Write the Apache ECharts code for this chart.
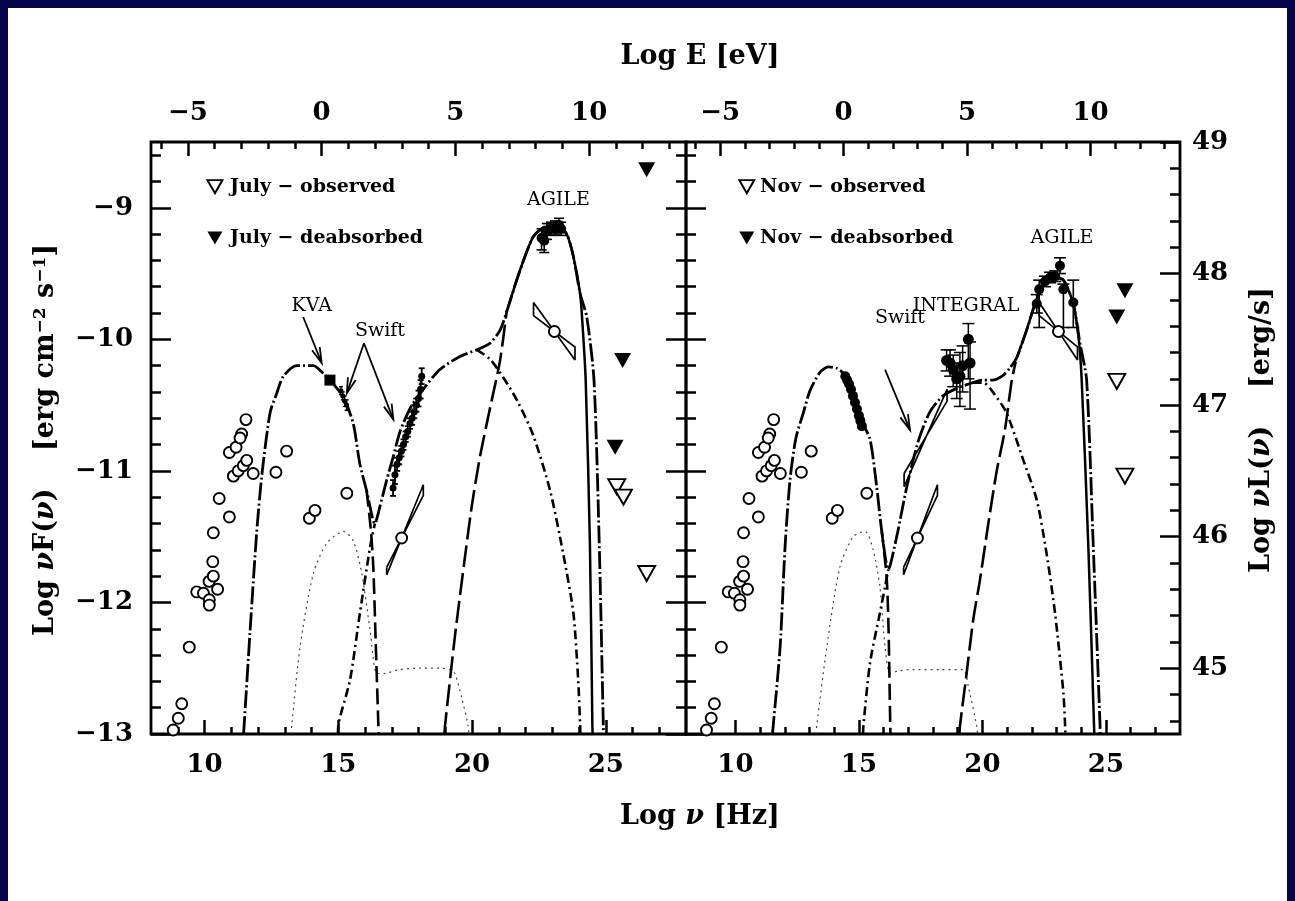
<!DOCTYPE html>
<html>
<head>
<meta charset="utf-8">
<title>3C 454.3 SED - July and November 2007</title>
<script src="https://cdn.jsdelivr.net/npm/echarts@6.0.0/dist/echarts.min.js"></script>
<style>
html,body{margin:0;padding:0;background:#ffffff;}
#wrap{position:relative;width:1295px;height:901px;overflow:hidden;background:#ffffff;}
#chart{position:absolute;left:0;top:0;width:1295px;height:901px;}
#frame{position:absolute;left:0;top:0;width:1295px;height:901px;box-sizing:border-box;border:8px solid #05054b;border-bottom-width:0;pointer-events:none;}
</style>
</head>
<body>
<div id="wrap"><div id="chart"></div><div id="frame"></div></div>
<script>
// ---------------- axis ranges and ticks ----------------
const NU_RANGE = [8, 28];          // log nu [Hz]
const LOGF_RANGE = [-13, -8.5];    // log nuF(nu)
const LOG_EV_HZ = 14.38;           // log E[eV] = log nu - 14.38
const L_SHIFT = 57.5;              // log nuL(nu) = log nuF(nu) + 57.5

const nuMajor = [10, 15, 20, 25];
const eMajor = [-5, 0, 5, 10];
const fMajor = [-13, -12, -11, -10, -9];
const lMajor = [45, 46, 47, 48, 49];

function stepTicks(lo, hi, step, majors) {
  const out = [];
  for (let v = lo; v <= hi + 1e-9; v += step) {
    const r = Math.round(v * 10) / 10;
    if (!majors.some(m => Math.abs(m - r) < 1e-6)) out.push(r);
  }
  return out;
}
const nuMinor = stepTicks(9, 27, 1, nuMajor);
const eMinor = stepTicks(-6, 13, 1, eMajor);
const fMinor = stepTicks(-12.8, -8.6, 0.2, fMajor);
const lMinor = stepTicks(44.6, 48.8, 0.2, lMajor);

// ---------------- archival data (both panels) ----------------
const archivalPts = [
  [8.83,-12.97],[9.02,-12.88],[9.15,-12.77],[9.43,-12.34],[9.71,-11.92],[9.96,-11.93],
  [10.17,-11.84],[10.18,-11.98],[10.18,-12.02],[10.31,-11.69],[10.33,-11.80],[10.49,-11.90],
  [10.33,-11.47],[10.55,-11.21],[10.93,-11.35],[10.93,-10.86],[11.08,-11.04],[11.18,-10.82],
  [11.26,-11.00],[11.39,-10.72],[11.33,-10.75],[11.45,-10.96],[11.55,-10.61],[11.58,-10.92],
  [11.82,-11.02],[12.67,-11.01],[13.07,-10.85],[13.92,-11.36],[14.13,-11.30],[15.32,-11.17],
  [17.37,-11.51],[23.08,-9.94]
];
const archivalXBowtie = [[16.81,-11.734],[18.18,-11.186],[18.18,-11.105],[16.81,-11.79],[16.81,-11.734]];
const archivalGBowtie = [[22.3,-9.72],[23.85,-10.157],[23.85,-10.058],[22.3,-9.82],[22.3,-9.72]];

// ---------------- July 2007 ----------------
const julyTotal = [
  [11.46,-13],[11.48,-12.94],[11.70,-12.23],[11.95,-11.47],[12.14,-11.04],[12.45,-10.56],
  [12.70,-10.41],[12.95,-10.28],[13.45,-10.20],[14.07,-10.20],[14.44,-10.26],[14.69,-10.31],
  [15.19,-10.44],[15.56,-10.64],[15.81,-10.95],[16.06,-11.15],[16.37,-11.40],[16.56,-11.27],
  [16.81,-11.07],[17.06,-10.89],[17.31,-10.70],[17.70,-10.52],[18.06,-10.41],[18.80,-10.23],
  [19.55,-10.13],[20.18,-10.08],[20.67,-10.03],[21.05,-9.93],[21.36,-9.75],[21.67,-9.55],
  [21.98,-9.37],[22.29,-9.22],[22.67,-9.15],[23.17,-9.13],[23.54,-9.20],[23.79,-9.37],
  [24.04,-9.65],[24.29,-9.83],[24.56,-10.31],[24.76,-11.58],[24.91,-12.94],[24.92,-13]
];
const julyAbsorbed = [
  [21.36,-9.75],[21.67,-9.55],[21.98,-9.37],[22.29,-9.22],[22.67,-9.15],[23.17,-9.13],
  [23.54,-9.20],[23.79,-9.37],[24.04,-9.65],[24.12,-9.85],[24.25,-10.31],[24.41,-11.58],
  [24.50,-12.94],[24.51,-13]
];
const julySyncTail = [[16.06,-11.15],[16.22,-11.45],[16.31,-11.73],[16.40,-12.30],[16.50,-12.94],[16.51,-13]];
const julySSCRise = [[14.99,-13],[15.00,-12.94],[15.44,-12.59],[15.81,-12.08],[16.19,-11.58],[16.37,-11.40]];
const julySSCFall = [
  [20.18,-10.08],[20.67,-10.15],[21.17,-10.29],[21.70,-10.47],[22.29,-10.73],[22.92,-11.15],
  [23.41,-11.63],[23.79,-12.08],[23.97,-12.59],[24.04,-12.92],[24.05,-13]
];
const julyECRise = [
  [18.97,-13],[18.99,-12.94],[19.36,-12.26],[19.74,-11.65],[19.99,-11.27],[20.30,-10.89],
  [20.74,-10.46],[21.05,-10.16],[21.30,-9.78]
];
const julyDisk = [
  [13.24,-13],[13.26,-12.94],[13.57,-12.34],[14.07,-11.78],[14.57,-11.55],[15.19,-11.46],
  [15.56,-11.53],[15.88,-11.78],[16.19,-12.21],[16.44,-12.54],[16.70,-12.54],[17.30,-12.51],
  [18.10,-12.50],[18.80,-12.50],[19.18,-12.51],[19.36,-12.54],[19.61,-12.72],[19.86,-12.94],[19.88,-13]
];
const julyKVA = [[14.69,-10.31]];
// [log nu, log nuF, low, high]
const julyUVOT = [[15.10,-10.39,-10.42,-10.36],[15.17,-10.43,-10.46,-10.40],[15.24,-10.47,-10.51,-10.43],[15.31,-10.50,-10.54,-10.46]];
const julyXRT = [
  [17.05,-11.13,-11.19,-11.07],[17.12,-11.03,-11.10,-10.96],[17.20,-10.95,-11.00,-10.90],
  [17.28,-10.90,-10.95,-10.85],[17.36,-10.85,-10.89,-10.81],[17.44,-10.80,-10.84,-10.76],
  [17.52,-10.74,-10.78,-10.70],[17.60,-10.70,-10.74,-10.66],[17.68,-10.64,-10.68,-10.60],
  [17.76,-10.60,-10.65,-10.55],[17.84,-10.55,-10.60,-10.50],[17.92,-10.50,-10.55,-10.45],
  [18.00,-10.45,-10.51,-10.39],[18.08,-10.38,-10.45,-10.31],[18.12,-10.28,-10.34,-10.22]
];
const julyAGILE = [
  [22.60,-9.23,-9.32,-9.16],[22.70,-9.25,-9.34,-9.17],[22.80,-9.18,-9.24,-9.12],
  [22.95,-9.16,-9.21,-9.11],[23.10,-9.15,-9.20,-9.10],[23.25,-9.13,-9.19,-9.08],[23.33,-9.16,-9.21,-9.11]
];
const julyObserved = [[25.41,-11.12],[25.66,-11.20],[26.53,-11.78]];
const julyDeabsorbed = [[26.53,-8.71],[25.63,-10.16],[25.35,-10.82]];

// ---------------- November 2007 ----------------
const novTotal = [
  [11.50,-13],[11.53,-12.94],[11.81,-12.34],[12.01,-11.58],[12.21,-11.07],[12.45,-10.75],
  [12.75,-10.56],[13.02,-10.39],[13.43,-10.25],[13.76,-10.21],[14.10,-10.22],[14.37,-10.26],
  [14.70,-10.38],[15.11,-10.62],[15.45,-10.76],[15.72,-11.12],[15.92,-11.45],[16.19,-11.75],
  [16.53,-11.50],[16.94,-11.12],[17.41,-10.77],[17.88,-10.55],[18.40,-10.43],[19.00,-10.37],
  [19.60,-10.33],[20.00,-10.31],[20.40,-10.31],[20.80,-10.28],[21.10,-10.22],[21.39,-10.14],
  [21.79,-9.93],[22.13,-9.73],[22.47,-9.58],[22.87,-9.53],[23.28,-9.55],[23.68,-9.73],
  [23.95,-10.03],[24.22,-10.31],[24.49,-11.58],[24.76,-12.92],[24.77,-13]
];
const novAbsorbed = [
  [21.39,-10.14],[21.79,-9.93],[22.13,-9.73],[22.47,-9.58],[22.87,-9.53],[23.28,-9.55],
  [23.68,-9.73],[23.90,-10.00],[24.02,-10.31],[24.29,-11.58],[24.52,-12.94],[24.53,-13]
];
const novSyncTail = [[15.92,-11.45],[16.12,-11.80],[16.20,-12.20],[16.27,-12.94],[16.28,-13]];
const novSSCRise = [[15.17,-13],[15.18,-12.94],[15.45,-12.46],[15.85,-12.08],[16.06,-11.88],[16.19,-11.75]];
const novSSCFall = [
  [19.60,-10.33],[20.04,-10.33],[20.50,-10.42],[20.98,-10.56],[21.66,-10.92],[22.20,-11.22],
  [22.60,-11.63],[22.94,-12.08],[23.28,-12.69],[23.35,-12.94],[23.36,-13]
];
const novECRise = [
  [19.07,-13],[19.09,-12.94],[19.36,-12.54],[19.63,-12.13],[19.90,-11.83],[20.24,-11.40],
  [20.58,-11.00],[20.91,-10.69],[21.19,-10.31],[21.35,-10.17]
];
const novDisk = [
  [13.27,-13],[13.29,-12.94],[13.70,-12.34],[14.23,-11.73],[14.77,-11.50],[15.25,-11.46],
  [15.58,-11.60],[15.85,-11.88],[16.06,-12.34],[16.26,-12.54],[16.60,-12.52],[17.20,-12.51],
  [18.28,-12.51],[19.22,-12.51],[19.43,-12.64],[19.77,-12.94],[19.80,-13]
];
const novOptical = [
  [14.45,-10.28],[14.52,-10.31],[14.60,-10.34],[14.68,-10.38],[14.76,-10.43],
  [14.84,-10.48],[14.92,-10.53],[15.00,-10.58],[15.06,-10.62],[15.12,-10.66]
];
const novXRTBowtie = [[16.83,-11.02],[18.57,-10.47],[18.57,-10.38],[16.83,-11.12],[16.83,-11.02]];
const novHardX = [
  [18.55,-10.16,-10.24,-10.08],[18.69,-10.18,-10.28,-10.08],[18.82,-10.23,-10.36,-10.12],
  [18.96,-10.30,-10.45,-10.18],[19.09,-10.28,-10.51,-10.10],[19.20,-10.20,-10.40,-10.05],
  [19.43,-10.00,-10.30,-9.88],[19.50,-10.18,-10.53,-10.02]
];
const novAGILE = [
  [22.20,-9.73,-9.80,-9.66],[22.30,-9.62,-9.91,-9.55],[22.53,-9.56,-9.60,-9.52],
  [22.74,-9.53,-9.57,-9.49],[22.95,-9.52,-9.56,-9.48],[23.14,-9.44,-9.50,-9.38],
  [23.28,-9.62,-9.91,-9.58],[23.68,-9.72,-9.91,-9.55]
];
const novObserved = [[25.44,-10.32],[25.77,-11.04]];
const novDeabsorbed = [[25.77,-9.63],[25.44,-9.83]];

// ---------------- annotations ----------------
const julyLabels = [
  { text: 'KVA', at: [14.01, -9.75] },
  { text: 'Swift', at: [16.56, -9.94] },
  { text: 'AGILE', at: [23.23, -8.94] }
];
const julyArrows = [[13.69,-9.83,14.38,-10.18],[15.96,-10.03,15.32,-10.41],[15.96,-10.03,17.06,-10.61]];
const julyLegend = [
  { text: 'July \u2212 observed', at: [10.95, -8.84] },
  { text: 'July \u2212 deabsorbed', at: [10.95, -9.23] }
];
const julyLegendOpen = [[10.39, -8.84]];
const julyLegendFilled = [[10.39, -9.23]];

const novLabels = [
  { text: 'Swift', at: [16.66, -9.84] },
  { text: 'INTEGRAL', at: [19.34, -9.75] },
  { text: 'AGILE', at: [23.22, -9.23] }
];
const novArrows = [[16.06,-10.23,17.07,-10.69]];
const novLegend = [
  { text: 'Nov \u2212 observed', at: [11.0, -8.84] },
  { text: 'Nov \u2212 deabsorbed', at: [11.0, -9.23] }
];
const novLegendOpen = [[10.46, -8.84]];
const novLegendFilled = [[10.46, -9.23]];

// ---------------- styling helpers ----------------
const SERIF = '"DejaVu Serif", "Liberation Serif", serif';
const INK = '#000000';
const minus = v => (v < 0 ? '\u2212' + Math.abs(v) : String(v));
const tickLabel = { fontFamily: SERIF, fontWeight: 'bold', fontSize: 26, color: INK };

function tickAxis(gi, pos, range, ticks, len, labels, margin) {
  return {
    gridIndex: gi, type: 'value', position: pos, min: range[0], max: range[1],
    axisLine: { show: false, onZero: false },
    splitLine: { show: false },
    axisTick: { show: true, inside: true, length: len, customValues: ticks,
                lineStyle: { color: INK, width: 2.5 } },
    axisLabel: labels ? Object.assign({ show: true, customValues: labels, margin: margin,
                formatter: minus }, tickLabel) : { show: false }
  };
}

function gridAxes(gi, showLeftLabels, rightLabelled) {
  const eRange = [NU_RANGE[0] - LOG_EV_HZ, NU_RANGE[1] - LOG_EV_HZ];
  const lRange = [LOGF_RANGE[0] + L_SHIFT, LOGF_RANGE[1] + L_SHIFT];
  const x = [
    tickAxis(gi, 'bottom', NU_RANGE, nuMajor, 14, nuMajor, 18),
    tickAxis(gi, 'bottom', NU_RANGE, nuMinor, 7, null),
    tickAxis(gi, 'top', eRange, eMajor, 14, eMajor, 16),
    tickAxis(gi, 'top', eRange, eMinor, 7, null)
  ];
  const y = [
    tickAxis(gi, 'left', LOGF_RANGE, fMajor, 20, showLeftLabels ? fMajor : null, 18),
    tickAxis(gi, 'left', LOGF_RANGE, fMinor, 10, null),
    rightLabelled ? tickAxis(gi, 'right', lRange, lMajor, 20, lMajor, 12)
                  : tickAxis(gi, 'right', LOGF_RANGE, fMajor, 20, null),
    rightLabelled ? tickAxis(gi, 'right', lRange, lMinor, 10, null)
                  : tickAxis(gi, 'right', LOGF_RANGE, fMinor, 10, null)
  ];
  return { x, y };
}

// ---------------- series builders ----------------
function curve(xi, yi, data, dash, width, color, z) {
  return { type: 'line', xAxisIndex: xi, yAxisIndex: yi, data: data, symbol: 'none',
    smooth: 0.25, silent: true, animation: false, z: z || 3,
    lineStyle: { color: color || INK, width: width, type: dash, cap: 'butt' } };
}
function outline(xi, yi, data) {
  return { type: 'line', xAxisIndex: xi, yAxisIndex: yi, data: data, symbol: 'none',
    smooth: false, silent: true, z: 4, lineStyle: { color: INK, width: 1.7, type: 'solid' } };
}
function points(xi, yi, data, symbol, size, fill, stroke, rotate, z) {
  return { type: 'scatter', xAxisIndex: xi, yAxisIndex: yi, data: data, symbol: symbol,
    symbolSize: size, symbolRotate: rotate || 0, silent: true, z: z || 6,
    itemStyle: { color: fill, borderColor: stroke || INK, borderWidth: stroke ? 1.9 : 0, opacity: 1 } };
}
function errorBars(xi, yi, data, cap, width) {
  return { type: 'custom', xAxisIndex: xi, yAxisIndex: yi, data: data, silent: true, z: 5,
    renderItem: function (params, api) {
      const lo = api.coord([api.value(0), api.value(2)]);
      const hi = api.coord([api.value(0), api.value(3)]);
      const st = { stroke: INK, lineWidth: width || 1.4 };
      return { type: 'group', children: [
        { type: 'line', shape: { x1: lo[0], y1: lo[1], x2: hi[0], y2: hi[1] }, style: st },
        { type: 'line', shape: { x1: lo[0] - cap, y1: lo[1], x2: lo[0] + cap, y2: lo[1] }, style: st },
        { type: 'line', shape: { x1: hi[0] - cap, y1: hi[1], x2: hi[0] + cap, y2: hi[1] }, style: st }
      ] };
    } };
}
function arrows(xi, yi, data) {
  return { type: 'custom', xAxisIndex: xi, yAxisIndex: yi, data: data, silent: true, z: 7, clip: false,
    renderItem: function (params, api) {
      const a = api.coord([api.value(0), api.value(1)]);
      const b = api.coord([api.value(2), api.value(3)]);
      const ang = Math.atan2(b[1] - a[1], b[0] - a[0]);
      const L = 16, w = 0.26;
      const h1 = [b[0] - L * Math.cos(ang - w), b[1] - L * Math.sin(ang - w)];
      const h2 = [b[0] - L * Math.cos(ang + w), b[1] - L * Math.sin(ang + w)];
      const st = { stroke: INK, lineWidth: 1.8, fill: null };
      return { type: 'group', children: [
        { type: 'line', shape: { x1: a[0], y1: a[1], x2: b[0], y2: b[1] }, style: st },
        { type: 'polyline', shape: { points: [h1, b, h2] }, style: st }
      ] };
    } };
}
function texts(xi, yi, items, font, align) {
  return { type: 'custom', xAxisIndex: xi, yAxisIndex: yi, silent: true, z: 8, clip: false,
    data: items.map(it => it.at),
    renderItem: function (params, api) {
      const p = api.coord([api.value(0), api.value(1)]);
      return { type: 'text', x: p[0], y: p[1],
        style: { text: items[params.dataIndex].text, font: font, fill: INK,
                 align: align, verticalAlign: 'middle' } };
    } };
}

const LABEL_FONT = 'normal 19px ' + SERIF;
const LEGEND_FONT = 'bold 19px ' + SERIF;
const TRI = [17, 15];

function panelSeries(gi, d) {
  const xi = gi * 4, yi = gi * 4;
  return [
    curve(xi, yi, d.disk, [2, 4], 1.2, '#444444', 2),
    curve(xi, yi, d.syncTail, [16, 6], 2.6),
    curve(xi, yi, d.sscRise, [9, 4, 2, 4], 2.6),
    curve(xi, yi, d.sscFall, [9, 4, 2, 4], 2.6),
    curve(xi, yi, d.ecRise, [22, 6], 2.6),
    curve(xi, yi, d.total, [18, 3, 2, 3], 2.8),
    curve(xi, yi, d.absorbed, 'solid', 2.5),
    outline(xi, yi, archivalXBowtie),
    outline(xi, yi, archivalGBowtie)
  ].concat(d.extra(xi, yi)).concat([
    points(xi, yi, archivalPts, 'circle', 11, '#ffffff', INK, 0, 6),
    points(xi, yi, d.observed, 'triangle', TRI, '#ffffff', INK, 180, 6),
    points(xi, yi, d.deabsorbed, 'triangle', TRI, INK, null, 180, 6),
    points(xi, yi, d.legendOpen, 'triangle', [15, 13], '#ffffff', INK, 180, 6),
    points(xi, yi, d.legendFilled, 'triangle', [15, 13], INK, null, 180, 6),
    texts(xi, yi, d.legend, LEGEND_FONT, 'left'),
    texts(xi, yi, d.labels, LABEL_FONT, 'center'),
    arrows(xi, yi, d.arrows)
  ]);
}

const julyPanel = {
  disk: julyDisk, syncTail: julySyncTail, sscRise: julySSCRise, sscFall: julySSCFall,
  ecRise: julyECRise, total: julyTotal, absorbed: julyAbsorbed,
  observed: julyObserved, deabsorbed: julyDeabsorbed,
  legend: julyLegend, legendOpen: julyLegendOpen, legendFilled: julyLegendFilled,
  labels: julyLabels, arrows: julyArrows,
  extra: (xi, yi) => [
    errorBars(xi, yi, julyUVOT, 2, 1.4),
    points(xi, yi, julyUVOT.map(p => [p[0], p[1]]), 'circle', 5, INK, null, 0, 6),
    errorBars(xi, yi, julyXRT, 3, 1.8),
    points(xi, yi, julyXRT.map(p => [p[0], p[1]]), 'circle', 7, INK, null, 0, 6),
    points(xi, yi, julyKVA, 'rect', 11, INK, null, 0, 6),
    errorBars(xi, yi, julyAGILE, 5, 1.6),
    points(xi, yi, julyAGILE.map(p => [p[0], p[1]]), 'circle', 10, INK, null, 0, 6)
  ]
};
const novPanel = {
  disk: novDisk, syncTail: novSyncTail, sscRise: novSSCRise, sscFall: novSSCFall,
  ecRise: novECRise, total: novTotal, absorbed: novAbsorbed,
  observed: novObserved, deabsorbed: novDeabsorbed,
  legend: novLegend, legendOpen: novLegendOpen, legendFilled: novLegendFilled,
  labels: novLabels, arrows: novArrows,
  extra: (xi, yi) => [
    outline(xi, yi, novXRTBowtie),
    points(xi, yi, novOptical, 'circle', 10, INK, null, 0, 6),
    errorBars(xi, yi, novHardX, 6, 1.5),
    points(xi, yi, novHardX.map(p => [p[0], p[1]]), 'circle', 11, INK, null, 0, 6),
    errorBars(xi, yi, novAGILE, 6, 1.6),
    points(xi, yi, novAGILE.map(p => [p[0], p[1]]), 'circle', 10, INK, null, 0, 6)
  ]
};

const g0 = gridAxes(0, true, false);
const g1 = gridAxes(1, false, true);

const titleRich = {
  a: { fontFamily: SERIF, fontWeight: 'bold', fontSize: 27, color: INK },
  b: { fontFamily: SERIF, fontStyle: 'italic', fontWeight: 'bold', fontSize: 27, color: INK },
  s: { fontFamily: SERIF, fontWeight: 'bold', fontSize: 17, color: INK, verticalAlign: 'top' }
};

const option = {
  animation: false,
  backgroundColor: '#ffffff',
  grid: [
    { left: 151, top: 142, width: 535, height: 592, show: true, borderColor: INK, borderWidth: 2.8,
      backgroundColor: 'transparent', containLabel: false },
    { left: 686, top: 142, width: 494, height: 592, show: true, borderColor: INK, borderWidth: 2.8,
      backgroundColor: 'transparent', containLabel: false }
  ],
  xAxis: g0.x.concat(g1.x),
  yAxis: g0.y.concat(g1.y),
  graphic: [
    { type: 'text', x: 700, y: 57, silent: true,
      style: { text: '{a|Log E [eV]}', align: 'center', verticalAlign: 'middle', rich: titleRich } },
    { type: 'text', x: 700, y: 817, silent: true,
      style: { text: '{a|Log }{b|\u03bd}{a| [Hz]}', align: 'center', verticalAlign: 'middle', rich: titleRich } },
    { type: 'text', x: 46, y: 440, rotation: Math.PI / 2, silent: true,
      style: { text: '{a|Log }{b|\u03bd}{a|F(}{b|\u03bd}{a|)    [erg cm}{s|\u22122}{a| s}{s|\u22121}{a|]}',
        align: 'center', verticalAlign: 'middle', rich: titleRich } },
    { type: 'text', x: 1262, y: 430, rotation: Math.PI / 2, silent: true,
      style: { text: '{a|Log }{b|\u03bd}{a|L(}{b|\u03bd}{a|)    [erg/s]}',
        align: 'center', verticalAlign: 'middle', rich: titleRich } }
  ],
  series: panelSeries(0, julyPanel).concat(panelSeries(1, novPanel))
};

const chart = echarts.init(document.getElementById('chart'), null, { renderer: 'canvas' });
chart.setOption(option);
</script>
</body>
</html>
